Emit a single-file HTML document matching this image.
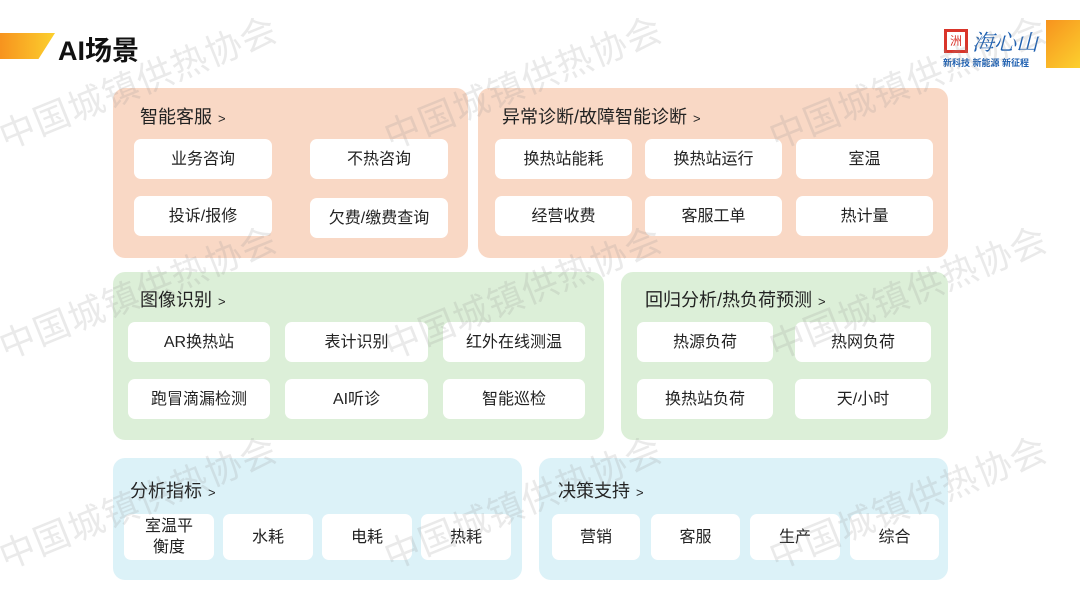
<!DOCTYPE html>
<html><head><meta charset="utf-8"><style>
*{margin:0;padding:0;box-sizing:border-box}
body{width:1080px;height:607px;background:#fff;position:relative;overflow:hidden;font-family:"Liberation Sans","Noto Sans CJK SC",sans-serif;color:#222}
.p{position:absolute;border-radius:12px}
.o{background:#f9d8c5}.g{background:#dcefd8}.b{background:#dcf2f8}
.t{position:absolute;font-size:18px;color:#222}
.t small{font-size:13px;margin-left:6px}
.i{position:absolute;background:#fff;border-radius:7px;font-size:16px;display:flex;align-items:center;justify-content:center;text-align:center;line-height:21px;color:#222}
.w{position:absolute;font-size:36px;color:rgba(150,150,150,0.2);transform:rotate(-22deg);transform-origin:left center;white-space:nowrap;z-index:5;letter-spacing:1px}
</style></head><body>
<div style="position:absolute;left:0;top:33px;width:55px;height:26px;background:linear-gradient(90deg,#f7931e,#fcd02e);clip-path:polygon(0 0,100% 0,70% 100%,0 100%)"></div>
<div style="position:absolute;left:58px;top:29px;font-size:27px;font-weight:bold;color:#111">AI场景</div>
<div style="position:absolute;left:944px;top:29px;width:24px;height:24px;border:3px solid #d9352a;color:#d9352a;font-size:12px;text-align:center;line-height:18px">洲</div>
<div style="position:absolute;left:972px;top:26px;font-size:22px;color:#1d5fb0;font-family:'Noto Serif CJK SC',serif;font-style:italic">海心山</div>
<div style="position:absolute;left:943px;top:56px;font-size:9px;color:#1d5fb0;font-weight:bold">新科技 新能源 新征程</div>
<div style="position:absolute;left:1046px;top:20px;width:34px;height:48px;background:linear-gradient(135deg,#f7931e,#fcd02e)"></div>

<div class="p o" style="left:113px;top:88px;width:355px;height:170px"></div>
<div class="t" style="left:140px;top:103px">智能客服<small>&gt;</small></div>
<div class="i" style="left:134px;top:139px;width:138px;height:40px">业务咨询</div>
<div class="i" style="left:310px;top:139px;width:138px;height:40px">不热咨询</div>
<div class="i" style="left:134px;top:196px;width:138px;height:40px">投诉/报修</div>
<div class="i" style="left:310px;top:198px;width:138px;height:40px">欠费/缴费查询</div>

<div class="p o" style="left:478px;top:88px;width:470px;height:170px"></div>
<div class="t" style="left:502px;top:103px">异常诊断/故障智能诊断<small>&gt;</small></div>
<div class="i" style="left:495px;top:139px;width:137px;height:40px">换热站能耗</div>
<div class="i" style="left:645px;top:139px;width:137px;height:40px">换热站运行</div>
<div class="i" style="left:796px;top:139px;width:137px;height:40px">室温</div>
<div class="i" style="left:495px;top:196px;width:137px;height:40px">经营收费</div>
<div class="i" style="left:645px;top:196px;width:137px;height:40px">客服工单</div>
<div class="i" style="left:796px;top:196px;width:137px;height:40px">热计量</div>

<div class="p g" style="left:113px;top:272px;width:491px;height:168px"></div>
<div class="t" style="left:140px;top:286px">图像识别<small>&gt;</small></div>
<div class="i" style="left:128px;top:322px;width:142px;height:40px">AR换热站</div>
<div class="i" style="left:285px;top:322px;width:143px;height:40px">表计识别</div>
<div class="i" style="left:443px;top:322px;width:142px;height:40px">红外在线测温</div>
<div class="i" style="left:128px;top:379px;width:142px;height:40px">跑冒滴漏检测</div>
<div class="i" style="left:285px;top:379px;width:143px;height:40px">AI听诊</div>
<div class="i" style="left:443px;top:379px;width:142px;height:40px">智能巡检</div>

<div class="p g" style="left:621px;top:272px;width:327px;height:168px"></div>
<div class="t" style="left:645px;top:286px">回归分析/热负荷预测<small>&gt;</small></div>
<div class="i" style="left:637px;top:322px;width:136px;height:40px">热源负荷</div>
<div class="i" style="left:795px;top:322px;width:136px;height:40px">热网负荷</div>
<div class="i" style="left:637px;top:379px;width:136px;height:40px">换热站负荷</div>
<div class="i" style="left:795px;top:379px;width:136px;height:40px">天/小时</div>

<div class="p b" style="left:113px;top:458px;width:409px;height:122px"></div>
<div class="t" style="left:130px;top:477px">分析指标<small>&gt;</small></div>
<div class="i" style="left:124px;top:514px;width:90px;height:46px">室温平<br>衡度</div>
<div class="i" style="left:223px;top:514px;width:90px;height:46px">水耗</div>
<div class="i" style="left:322px;top:514px;width:90px;height:46px">电耗</div>
<div class="i" style="left:421px;top:514px;width:90px;height:46px">热耗</div>

<div class="p b" style="left:539px;top:458px;width:409px;height:122px"></div>
<div class="t" style="left:558px;top:477px">决策支持<small>&gt;</small></div>
<div class="i" style="left:552px;top:514px;width:88px;height:46px">营销</div>
<div class="i" style="left:651px;top:514px;width:89px;height:46px">客服</div>
<div class="i" style="left:750px;top:514px;width:90px;height:46px">生产</div>
<div class="i" style="left:850px;top:514px;width:89px;height:46px">综合</div>

<div class="w" style="left:0;top:110px">中国城镇供热协会</div>
<div class="w" style="left:385px;top:110px">中国城镇供热协会</div>
<div class="w" style="left:770px;top:110px">中国城镇供热协会</div>
<div class="w" style="left:0;top:320px">中国城镇供热协会</div>
<div class="w" style="left:385px;top:320px">中国城镇供热协会</div>
<div class="w" style="left:770px;top:320px">中国城镇供热协会</div>
<div class="w" style="left:0;top:530px">中国城镇供热协会</div>
<div class="w" style="left:385px;top:530px">中国城镇供热协会</div>
<div class="w" style="left:770px;top:530px">中国城镇供热协会</div>
</body></html>
